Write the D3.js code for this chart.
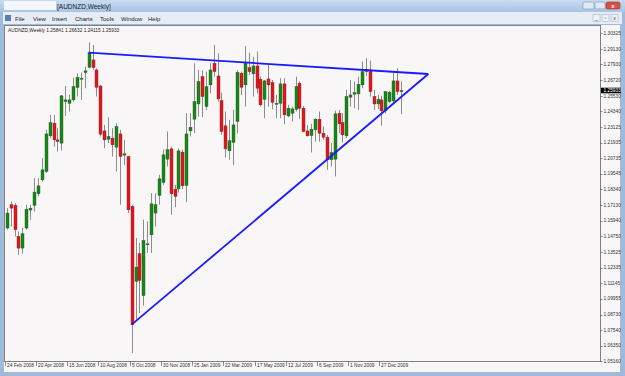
<!DOCTYPE html>
<html>
<head>
<meta charset="utf-8">
<script src="https://cdn.jsdelivr.net/npm/d3@7"></script>
<style>
body { margin:0; padding:0; background:#fff; }
svg text { font-family: "Liberation Sans", Arial, sans-serif; }
</style>
</head>
<body>
<div id="chart-area"></div>
<script>
// AUDNZD weekly candles, 24 Feb 2008 .. 24 Jan 2010
var opens = [1.1537,1.1716,1.1711,1.1473,1.1383,1.1537,1.1675,1.1711,1.1800,1.1907,
	1.1971,1.2245,1.2342,1.2214,1.2189,1.2508,1.2495,1.2521,1.2616,1.2680,
	1.2731,1.2772,1.2828,1.2751,1.2628,1.2283,1.2219,1.2227,1.2158,1.2260,
	1.2097,1.2086,1.1703,1.1128,1.1340,1.1018,1.1409,1.1485,1.1652,1.1787,
	1.1887,1.2066,1.2145,1.1836,1.1838,1.2120,1.1864,1.2283,1.2373,1.2490,
	1.2700,1.2470,1.2636,1.2802,1.2705,1.2516,1.2322,1.2130,1.2194,1.2355,
	1.2726,1.2636,1.2769,1.2721,1.2782,1.2680,1.2526,1.2682,1.2654,1.2490,
	1.2495,1.2644,1.2398,1.2419,1.2449,1.2649,1.2457,1.2283,1.2247,1.2291,
	1.2373,1.2265,1.2235,1.2061,1.2066,1.2419,1.2347,1.2245,1.2542,1.2565,
	1.2567,1.2636,1.2738,1.2751,1.2547,1.2490,1.2521,1.2437,1.2508,1.2513,
	1.2667,1.25841];
var highs = [1.1690,1.1741,1.1728,1.1511,1.1537,1.1716,1.1716,1.1920,1.1920,1.2074,
	1.2291,1.2406,1.2406,1.2304,1.2559,1.2628,1.2559,1.2692,1.2726,1.2731,
	1.2777,1.2963,1.2943,1.2764,1.2636,1.2329,1.2388,1.2304,1.2342,1.2291,
	1.2214,1.2092,1.1716,1.1460,1.1422,1.1601,1.1588,1.1805,1.1805,1.1946,
	1.2138,1.2278,1.2163,1.1869,1.2150,1.2138,1.2419,1.2419,1.2802,1.2751,
	1.2746,1.2738,1.2802,1.2943,1.2879,1.2577,1.2432,1.2368,1.2444,1.2751,
	1.2738,1.2935,1.2884,1.2853,1.2892,1.2700,1.2674,1.2790,1.2674,1.2559,
	1.2687,1.2687,1.2483,1.2470,1.2700,1.2662,1.2475,1.2329,1.2337,1.2380,
	1.2432,1.2317,1.2253,1.2189,1.2439,1.2444,1.2419,1.2598,1.2674,1.2662,
	1.2700,1.2815,1.2841,1.2823,1.2598,1.2559,1.2552,1.2590,1.2590,1.2738,
	1.2764,1.26632];
var lows = [1.1524,1.1549,1.1473,1.1332,1.1340,1.1524,1.1601,1.1664,1.1780,1.1895,
	1.1959,1.2227,1.2163,1.2125,1.2132,1.2398,1.2432,1.2508,1.2547,1.2521,
	1.2611,1.2764,1.2751,1.2547,1.2240,1.2150,1.2189,1.2086,1.1971,1.1716,
	1.2022,1.1652,1.0578,1.0833,1.0885,1.0941,1.1347,1.1345,1.1549,1.1716,
	1.1869,1.2010,1.1639,1.1698,1.1810,1.1836,1.1736,1.2240,1.2265,1.2393,
	1.2388,1.2444,1.2572,1.2700,1.2508,1.2253,1.2079,1.2061,1.2022,1.2265,
	1.2559,1.2470,1.2713,1.2547,1.2572,1.2470,1.2380,1.2470,1.2449,1.2380,
	1.2380,1.2334,1.2388,1.2355,1.2432,1.2373,1.2273,1.2240,1.2117,1.2201,
	1.2201,1.2214,1.1984,1.2010,1.1933,1.2265,1.2194,1.2227,1.2470,1.2457,
	1.2444,1.2611,1.2705,1.2547,1.2444,1.2449,1.2324,1.2419,1.2495,1.2495,
	1.2559,1.24115];
var closes = [1.1652,1.1690,1.1524,1.1383,1.1493,1.1682,1.1690,1.1813,1.1861,1.1984,
	1.2260,1.2347,1.2214,1.2201,1.2552,1.2521,1.2521,1.2623,1.2695,1.2687,
	1.2744,1.2884,1.2769,1.2618,1.2258,1.2214,1.2240,1.2176,1.2317,1.2086,
	1.2107,1.1677,1.0795,1.1237,1.1135,1.1442,1.1416,1.1723,1.1716,1.1915,
	1.2099,1.2138,1.1800,1.1780,1.2130,1.1861,1.2260,1.2311,1.2508,1.2662,
	1.2547,1.2623,1.2751,1.2738,1.2529,1.2278,1.2145,1.2207,1.2329,1.2733,
	1.2618,1.2802,1.2738,1.2782,1.2611,1.2483,1.2667,1.2636,1.2503,1.2495,
	1.2644,1.2406,1.2457,1.2452,1.2623,1.2457,1.2278,1.2245,1.2296,1.2373,
	1.2265,1.2235,1.2061,1.2117,1.2414,1.2337,1.2253,1.2547,1.2559,1.2577,
	1.2641,1.2738,1.2756,1.2585,1.2490,1.2526,1.2437,1.2585,1.2580,1.2667,
	1.2585,1.25933];

// date labels every 8 bars
var dateLabels = ["24 Feb 2008","20 Apr 2008","15 Jun 2008","10 Aug 2008","5 Oct 2008",
	"30 Nov 2008","25 Jan 2009","22 Mar 2009","17 May 2009","12 Jul 2009",
	"6 Sep 2009","1 Nov 2009","27 Dec 2009"];
var dateLabelBars = [0,8,16,24,32,40,48,56,64,72,80,88,96];

var priceTicks = [1.30325,1.29130,1.27930,1.26720,1.25530,1.24340,1.23125,1.21935,
	1.20735,1.19545,1.18340,1.17130,1.15940,1.14750,1.13525,1.12335,1.11145,
	1.09955,1.08730,1.07540,1.06350,1.05160];

// triangle trendlines (bar index, price)
var upperLine = [[21, 1.2884], [108, 1.2720]];
var lowerLine = [[32, 1.0795], [108, 1.2720]];

var W = 625, H = 376;
var plot = {left:4, right:600, top:25, bottom:361};

var svg = d3.select("#chart-area")
	.append("svg")
		.attr("width", W)
		.attr("height", H);

// window frame
var grad = svg.append("defs").append("linearGradient")
	.attr("id","tb").attr("x1",0).attr("y1",0).attr("x2",0).attr("y2",1);
grad.append("stop").attr("offset","0%").attr("stop-color","#c9dbf0");
grad.append("stop").attr("offset","100%").attr("stop-color","#a9c3e3");

svg.append("rect").attr("width",W).attr("height",H).attr("fill","#9fbadb");
svg.append("rect").attr("width",W).attr("height",12).attr("fill","url(#tb)");
svg.append("rect").attr("x",4).attr("y",1).attr("width",52).attr("height",9).attr("fill","#f4f7fb");
svg.append("text")
	.attr("x",57).attr("y",8.5)
	.attr("font-size","6.5px")
	.attr("fill","#1a1a2a")
	.text("[AUDNZD,Weekly]");

// title buttons
svg.append("rect").attr("x",583).attr("y",2).attr("width",11).attr("height",7).attr("rx",1.5)
	.attr("fill","#dfe8f3").attr("stroke","#7d93b3").attr("stroke-width",0.6);
svg.append("rect").attr("x",595).attr("y",2).attr("width",10).attr("height",7).attr("rx",1.5)
	.attr("fill","#dfe8f3").attr("stroke","#7d93b3").attr("stroke-width",0.6);
svg.append("rect").attr("x",606).attr("y",2).attr("width",14).attr("height",7).attr("rx",1.5)
	.attr("fill","#d9503f").attr("stroke","#8c3a30").attr("stroke-width",0.6);
svg.append("text").attr("x",613).attr("y",8).attr("text-anchor","middle")
	.attr("font-size","6px").attr("font-weight","bold").attr("fill","#fff").text("x");

// menu bar
svg.append("rect").attr("x",3).attr("y",12).attr("width",W-6).attr("height",12).attr("fill","#e6edf6");
svg.append("rect").attr("x",5).attr("y",15).attr("width",6).attr("height",6).attr("fill","#5a7fb8");
var menus = ["File","View","Insert","Charts","Tools","Window","Help"];
var menuX = [15,33,52,75,100,121,148];
menus.forEach(function(m, i){
	svg.append("text")
		.attr("x", menuX[i]).attr("y", 21)
		.attr("font-size","6px")
		.attr("fill","#222")
		.text(m);
});
[596,605,614].forEach(function(bx, i){
	svg.append("rect").attr("x",bx-3).attr("y",14.5).attr("width",7).attr("height",7)
		.attr("fill","#eef2f8").attr("stroke","#9aaac0").attr("stroke-width",0.5);
	svg.append("text").attr("x",bx+0.5).attr("y",20).attr("text-anchor","middle")
		.attr("font-size","5px").attr("fill","#333").text(["_","\u25AB","x"][i]);
});

// chart background
svg.append("rect")
	.attr("x",plot.left).attr("y",plot.top)
	.attr("width",620-plot.left).attr("height",372-plot.top)
	.attr("fill","#f9f6f8");
svg.append("rect")
	.attr("x",plot.left+0.5).attr("y",plot.top+0.5)
	.attr("width",plot.right-plot.left).attr("height",plot.bottom-plot.top)
	.attr("fill","none").attr("stroke","#808080").attr("stroke-width",1);

var x = d3.scaleLinear().domain([0, 101]).range([6.7, 401]);
var y = d3.scaleLinear().domain([1.05160, 1.30325]).range([361, 33.3]);

var g = svg.append("g");

// candles
var idx = d3.range(opens.length);
g.selectAll("line.wick")
	.data(idx)
	.enter().append("line")
		.attr("class","wick")
		.attr("x1", function(i){ return Math.round(x(i)) + 0.5; })
		.attr("x2", function(i){ return Math.round(x(i)) + 0.5; })
		.attr("y1", function(i){ return y(highs[i]); })
		.attr("y2", function(i){ return y(lows[i]); })
		.attr("stroke","#8c8c8c")
		.attr("stroke-width",1);

g.selectAll("rect.body")
	.data(idx)
	.enter().append("rect")
		.attr("class","body")
		.attr("x", function(i){ return Math.round(x(i)) - 1; })
		.attr("y", function(i){ return y(Math.max(opens[i], closes[i])); })
		.attr("width", 3)
		.attr("height", function(i){
			return Math.max(1, Math.abs(y(opens[i]) - y(closes[i])));
		})
		.attr("fill", function(i){ return closes[i] >= opens[i] ? "#138a13" : "#e8141c"; })
		.attr("stroke", function(i){ return closes[i] >= opens[i] ? "#2f4f2f" : "#6a2a2a"; })
		.attr("stroke-width",0.4);

// trendlines
var line = d3.line()
	.x(function(d){ return x(d[0]); })
	.y(function(d){ return y(d[1]); });
[upperLine, lowerLine].forEach(function(l){
	g.append("path")
		.attr("d", line(l))
		.attr("fill","none")
		.attr("stroke","#1a1aff")
		.attr("stroke-width",1.8);
});

// header text
var last = opens.length - 1;
svg.append("text")
	.attr("x",8).attr("y",31.5)
	.attr("font-size","4.8px")
	.attr("fill","#222")
	.text("AUDNZD,Weekly  " + opens[last].toFixed(5) + " " + highs[last].toFixed(5) + " " +
		lows[last].toFixed(5) + " " + closes[last].toFixed(5));

// price axis
var yAxis = svg.append("g");
priceTicks.forEach(function(p){
	yAxis.append("line")
		.attr("x1",plot.right+0.5).attr("x2",plot.right+2.5)
		.attr("y1",Math.round(y(p))+0.5).attr("y2",Math.round(y(p))+0.5)
		.attr("stroke","#444").attr("stroke-width",0.6);
	yAxis.append("text")
		.attr("x",plot.right+3.5).attr("y",y(p)+1.8)
		.attr("font-size","4.8px")
		.attr("fill","#333")
		.text(p.toFixed(5));
});
// current price box
var cp = closes[last];
yAxis.append("rect")
	.attr("x",plot.right+1).attr("y",y(cp)-2.8)
	.attr("width",20).attr("height",5.6)
	.attr("fill","#000");
yAxis.append("text")
	.attr("x",plot.right+3.5).attr("y",y(cp)+1.8)
	.attr("font-size","4.8px")
	.attr("fill","#fff")
	.text(cp.toFixed(5));

// time axis
var xAxis = svg.append("g");
dateLabels.forEach(function(t, k){
	var px = Math.round(x(dateLabelBars[k])) - 1.5;
	xAxis.append("line")
		.attr("x1",px).attr("x2",px)
		.attr("y1",plot.bottom+0.5).attr("y2",plot.bottom+5)
		.attr("stroke","#444").attr("stroke-width",0.6);
	xAxis.append("text")
		.attr("x",px+1.5).attr("y",plot.bottom+6.2)
		.attr("font-size","4.8px")
		.attr("fill","#333")
		.text(t);
});
</script>
</body>
</html>
